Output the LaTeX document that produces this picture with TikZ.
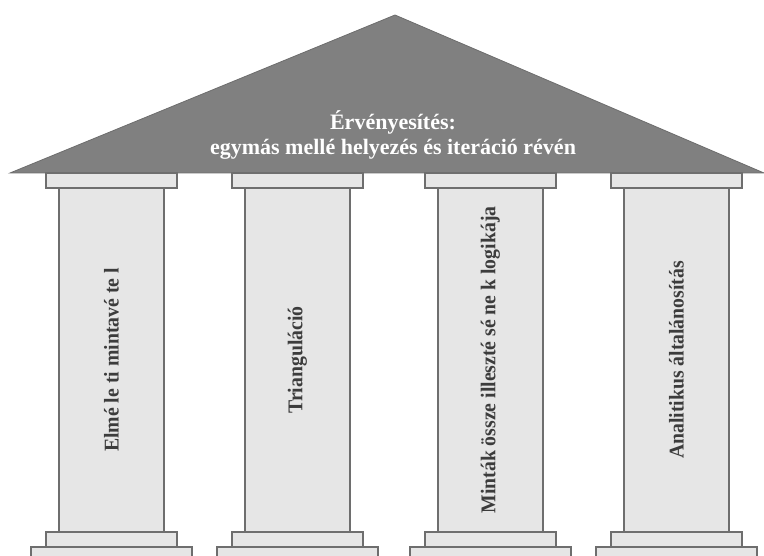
\documentclass[tikz,border=0pt]{standalone}
\usepackage{fontspec}
\setmainfont{Liberation Serif}
\newfontfamily\pillarfont[FakeStretch=0.94]{Liberation Serif}
\usetikzlibrary{positioning}

\definecolor{roofgray}{RGB}{128,128,128}
\definecolor{stonegray}{RGB}{230,230,230}
\definecolor{edgegray}{RGB}{110,110,110}
\definecolor{inkgray}{RGB}{60,60,60}

\tikzset{
  stone/.style={draw=edgegray, fill=stonegray, line width=1.2pt, inner sep=0pt, outer sep=0pt},
  shaft/.style={stone, minimum width=105pt, minimum height=344pt},
  capital/.style={stone, minimum width=131pt, minimum height=15pt},
  plinth/.style={stone, minimum width=161pt, minimum height=15pt},
  pillarlabel/.style={rotate=90, text=inkgray, font=\pillarfont\bfseries\fontsize{21}{24}\selectfont},
  rooflabel/.style={text=white, align=center, font=\bfseries\fontsize{22}{25}\selectfont}
}

\begin{document}
\begin{tikzpicture}[x=1pt, y=-1pt]
    \useasboundingbox (0,0) rectangle (764,556);
    \clip (0,0) rectangle (764,556);

    % roof
    \filldraw[fill=roofgray, draw=roofgray!85!black, line width=0.8pt] (10,173) -- (395,15) -- (764,173) -- cycle;
    \node[rooflabel] (ervenyesites) at (393,135) {Érvényesítés:\\egymás mellé helyezés és iteráció révén};

    % pillars
    \foreach \x/\name/\txt in {111.5/elmeleti/{Elmé le ti mintavé te l},
                               297.5/triang/{Trianguláció},
                               490.5/mintak/{Minták össze illeszté sé ne k logikája},
                               676.5/analit/{Analitikus általánosítás}} {
        \node[shaft] (\name) at (\x,360) {};
        \node[capital, above=0pt of \name] (\name-cap) {};
        \node[capital, below=0pt of \name] (\name-base) {};
        \node[plinth, below=0pt of \name-base] (\name-plinth) {};
        \node[pillarlabel] (\name-text) at (\name.center) {\txt};
    }
\end{tikzpicture}
\end{document}
